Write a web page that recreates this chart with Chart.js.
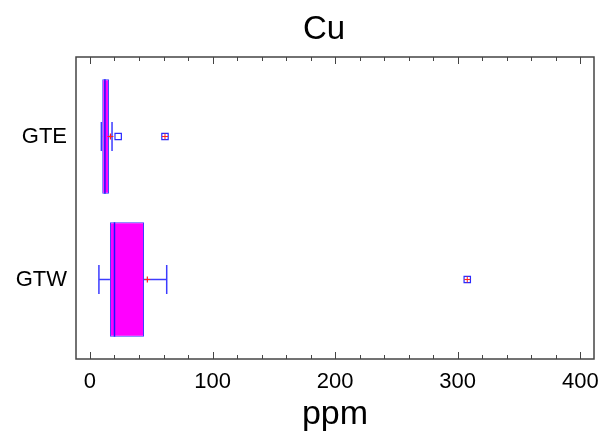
<!DOCTYPE html>
<html>
<head>
<meta charset="utf-8">
<script src="https://cdn.jsdelivr.net/npm/chart.js@4"></script>
<style>
  body { margin: 0; background: #fff; }
</style>
</head>
<body>
<canvas id="boxChart" width="601" height="436"></canvas>
<script>
'use strict'

// groups listed top to bottom
const groups = ['GTE', 'GTW']
const q1 = [10.0, 16.3]
const q3 = [15.5, 44.1]
const medians = [12.2, 20.0]
const whiskerLow = [9.3, 7.3]
const whiskerHigh = [18.0, 62.6]
const means = [16.7, 46.8]
const outsidePoints = [[23.0], []]
const farOutsidePoints = [[61.2], [307.8]]
const xTicks = [0, 100, 200, 300, 400]

const FONT = "'Liberation Sans', Arial, sans-serif"
const BLUE = '#3c3cff'

// GTE sits at y = 1, GTW at y = 0
const rowPos = (i) => groups.length - 1 - i

const boxData = groups.map((g, i) => ({ x: [q1[i], q3[i]], y: rowPos(i) }))
const meanData = groups.map((g, i) => ({ x: means[i], y: rowPos(i) }))
const outData = []
const farData = []
groups.forEach((g, i) => {
  outsidePoints[i].forEach((v) => outData.push({ x: v, y: rowPos(i) }))
  farOutsidePoints[i].forEach((v) => farData.push({ x: v, y: rowPos(i) }))
})

const whiskerPlugin = {
  id: 'whiskers',
  afterDatasetDraw (chart, args) {
    if (args.index !== 0) return
    const ctx = chart.ctx
    const xs = chart.scales.x
    ctx.save()
    args.meta.data.forEach((bar, i) => {
      const y = bar.y
      const h = bar.height
      const cap = h * 0.127
      const xl = xs.getPixelForValue(whiskerLow[i])
      const xq1 = xs.getPixelForValue(q1[i])
      const xq3 = xs.getPixelForValue(q3[i])
      const xh = xs.getPixelForValue(whiskerHigh[i])
      ctx.strokeStyle = BLUE
      ctx.lineWidth = 1.5
      ctx.beginPath()
      ctx.moveTo(xl, y); ctx.lineTo(xq1, y)
      ctx.moveTo(xq3, y); ctx.lineTo(xh, y)
      ctx.moveTo(xl, y - cap); ctx.lineTo(xl, y + cap)
      ctx.moveTo(xh, y - cap); ctx.lineTo(xh, y + cap)
      ctx.stroke()
      // median line
      const xm = xs.getPixelForValue(medians[i])
      ctx.strokeStyle = '#1a1aff'
      ctx.lineWidth = 1.5
      ctx.beginPath()
      ctx.moveTo(xm, y - h / 2); ctx.lineTo(xm, y + h / 2)
      ctx.stroke()
    })
    ctx.restore()
  }
}

const framePlugin = {
  id: 'frame',
  beforeDraw (chart) {
    const ctx = chart.ctx
    ctx.save()
    ctx.fillStyle = '#fff'
    ctx.fillRect(0, 0, chart.width, chart.height)
    ctx.restore()
  },
  afterDraw (chart) {
    const ctx = chart.ctx
    const a = chart.chartArea
    const xs = chart.scales.x
    ctx.save()
    ctx.strokeStyle = '#444'
    ctx.lineWidth = 1.5
    ctx.strokeRect(a.left, a.top, a.right - a.left, a.bottom - a.top)
    // inward ticks on top and bottom edges
    ctx.lineWidth = 1
    ctx.beginPath()
    for (let v = 0; v <= xs.max; v += 20) {
      const x = Math.round(xs.getPixelForValue(v)) + 0.5
      const len = v % 100 === 0 ? 7 : 4
      ctx.moveTo(x, a.bottom); ctx.lineTo(x, a.bottom - len)
      ctx.moveTo(x, a.top); ctx.lineTo(x, a.top + len)
    }
    ctx.stroke()
    // chart title
    ctx.fillStyle = '#000'
    ctx.font = '33px ' + FONT
    ctx.textAlign = 'center'
    ctx.textBaseline = 'alphabetic'
    ctx.fillText('Cu', 324, 39)
    ctx.restore()
  }
}

const ctx = document.getElementById('boxChart')

const boxChart = new Chart(ctx, {
  type: 'bar',
  data: {
    datasets: [
      {
        type: 'bar',
        indexAxis: 'y',
        data: boxData,
        backgroundColor: '#ff00ff',
        borderColor: BLUE,
        borderWidth: 1,
        borderSkipped: false,
        categoryPercentage: 1,
        barPercentage: 0.8,
        order: 3
      },
      {
        type: 'scatter',
        data: outData.concat(farData),
        pointStyle: 'rect',
        pointRadius: 4.5,
        pointBackgroundColor: '#fff',
        pointBorderColor: '#2a2aff',
        pointBorderWidth: 1.2,
        order: 2
      },
      {
        type: 'scatter',
        data: farData,
        pointStyle: 'cross',
        pointRadius: 3,
        pointBorderColor: '#ff2020',
        pointBorderWidth: 1,
        order: 1
      },
      {
        type: 'scatter',
        data: meanData,
        pointStyle: 'cross',
        pointRadius: 3,
        pointBorderColor: '#ff2020',
        pointBorderWidth: 1.2,
        order: 0
      }
    ]
  },
  options: {
    responsive: false,
    animation: false,
    events: [],
    layout: { padding: { top: 57, right: 7, left: 0, bottom: 0 } },
    plugins: {
      legend: { display: false },
      tooltip: { enabled: false },
      title: { display: false }
    },
    scales: {
      x: {
        type: 'linear',
        offset: false,
        min: -11.4,
        max: 411.2,
        afterBuildTicks: (scale) => { scale.ticks = xTicks.map((v) => ({ value: v })) },
        afterFit: (scale) => {
          scale.height = 77
          scale.paddingLeft = 0
          scale.paddingRight = 0
        },
        grid: { display: false, drawTicks: false, offset: false },
        border: { display: false },
        ticks: {
          padding: 10,
          color: '#000',
          maxRotation: 0,
          font: { family: FONT, size: 22 }
        },
        title: {
          display: true,
          text: 'ppm',
          color: '#000',
          padding: { top: 0, bottom: 1 },
          font: { family: FONT, size: 34 }
        }
      },
      y: {
        type: 'linear',
        offset: false,
        min: -0.556,
        max: 1.556,
        afterBuildTicks: (scale) => { scale.ticks = groups.map((g, i) => ({ value: rowPos(i) })) },
        afterFit: (scale) => {
          scale.width = 76
          scale.paddingTop = 0
          scale.paddingBottom = 0
        },
        grid: { display: false, drawTicks: false, offset: false },
        border: { display: false },
        ticks: {
          padding: 9,
          color: '#000',
          font: { family: FONT, size: 22 },
          callback: (value) => groups[groups.length - 1 - value]
        }
      }
    }
  },
  plugins: [whiskerPlugin, framePlugin]
})
</script>
</body>
</html>
